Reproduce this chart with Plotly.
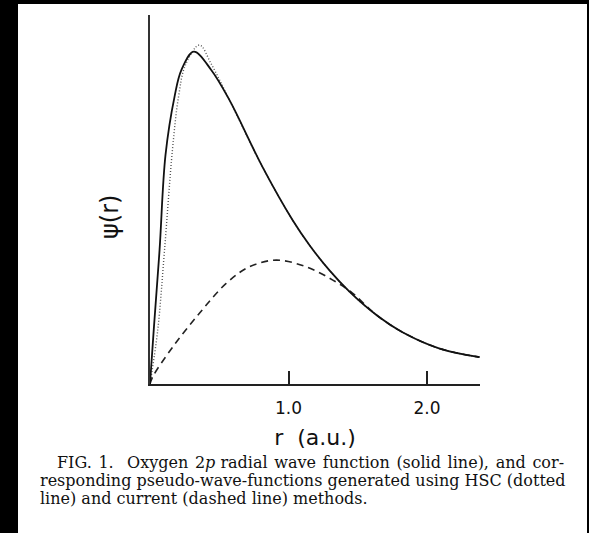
import plotly.graph_objects as go

# ---- data (r in a.u., psi in arbitrary units) ----
r_solid = [0.0, 0.027, 0.069, 0.112, 0.177, 0.227, 0.316, 0.442, 0.574, 0.812, 1.029,
           1.152, 1.296, 1.440, 1.628, 1.823, 2.097, 2.379]
psi_solid = [0.0, 0.163, 0.404, 0.690, 0.865, 0.946, 1.001, 0.946, 0.855, 0.654, 0.494,
             0.418, 0.342, 0.278, 0.210, 0.156, 0.106, 0.081]

r_dotted = [0.0, 0.056, 0.105, 0.162, 0.206, 0.256, 0.357, 0.442, 0.574, 0.812, 1.029,
            1.152, 1.296, 1.440, 1.628, 1.823, 2.097, 2.379]
psi_dotted = [0.0, 0.163, 0.404, 0.705, 0.865, 0.961, 1.021, 0.964, 0.855, 0.654, 0.494,
              0.418, 0.342, 0.278, 0.210, 0.156, 0.106, 0.081]

r_dashed = [0.0, 0.020, 0.165, 0.357, 0.550, 0.718, 0.911, 1.128, 1.320, 1.462, 1.628,
            1.823, 2.097, 2.379]
psi_dashed = [0.0, 0.022, 0.112, 0.213, 0.303, 0.353, 0.373, 0.353, 0.313, 0.274, 0.210,
              0.156, 0.106, 0.081]

x_tickvals = [1.0, 2.0]
x_ticktext = ["1.0", "2.0"]

caption_lines = [
    "FIG. 1.  Oxygen 2<i>p</i> radial wave function (solid line), and cor-",
    "responding pseudo-wave-functions generated using HSC (dotted",
    "line) and current (dashed line) methods.",
]

W, H = 589, 533
L, R, T, B = 150, 480, 15, 384  # plot area in pixels
PX_PER_R = 138.5
PX_PER_PSI = 332.0

fig = go.Figure()
fig.add_trace(go.Scatter(x=r_dotted, y=psi_dotted, mode="lines", line_shape="spline",
                         line=dict(color="#555", width=1.4, dash="1px,2px"), showlegend=False))
fig.add_trace(go.Scatter(x=r_dashed, y=psi_dashed, mode="lines", line_shape="spline",
                         line=dict(color="#222", width=1.6, dash="7px,5px"), showlegend=False))
fig.add_trace(go.Scatter(x=r_solid, y=psi_solid, mode="lines", line_shape="spline",
                         line=dict(color="#111", width=1.8), showlegend=False))

def px_x(p):
    return (p - L) / (R - L)

def px_y(p):
    return (B - p) / (B - T)

fig.add_shape(type="rect", xref="paper", yref="paper", layer="below",
              x0=px_x(18), x1=px_x(587), y0=px_y(533), y1=px_y(4),
              fillcolor="white", line=dict(width=0))

sans = "DejaVu Sans, Arial"
fig.update_layout(
    width=W, height=H,
    margin=dict(l=L, r=W - R, t=T, b=H - B, pad=0),
    paper_bgcolor="black",
    plot_bgcolor="rgba(0,0,0,0)",
    xaxis=dict(range=[0, (R - L) / PX_PER_R], showgrid=False, zeroline=False,
               showline=True, linecolor="#222", linewidth=1.6,
               tickvals=x_tickvals, ticktext=x_ticktext, ticks="inside", ticklen=13,
               tickwidth=1.5, tickcolor="#222", ticklabelstandoff=8,
               tickfont=dict(family=sans, size=17, color="#111"),
               title=dict(text="r\u00a0\u00a0(a.u.)", standoff=12,
                          font=dict(family=sans, size=22, color="#111"))),
    yaxis=dict(range=[0, (B - T) / PX_PER_PSI], showgrid=False, zeroline=False,
               showline=True, linecolor="#333", linewidth=1.6,
               showticklabels=False, ticks=""),
    font=dict(family=sans, color="#111"),
)

fig.add_annotation(text="\u03c8(r)", xref="paper", yref="paper", x=px_x(94), y=px_y(217),
                   showarrow=False, textangle=-90,
                   font=dict(family=sans, size=24, color="#111"))

# justify the first caption line slightly (as in the typeset original)
caption_display = [caption_lines[0].replace(" ", " \u200a"), caption_lines[1], caption_lines[2]]
caption_display[0] = caption_display[0].replace("<i>p</i> \u200a", "<i>p</i> ")

cap_x = [56, 39, 39]
cap_y = [462, 480, 498]
for t, cx, cy in zip(caption_display, cap_x, cap_y):
    fig.add_annotation(text=t, xref="paper", yref="paper", x=px_x(cx), y=px_y(cy),
                       xanchor="left", yanchor="middle", showarrow=False, borderpad=0,
                       font=dict(family="DejaVu Serif, Liberation Serif", size=16, color="#111"))

fig.write_html("out.html")
